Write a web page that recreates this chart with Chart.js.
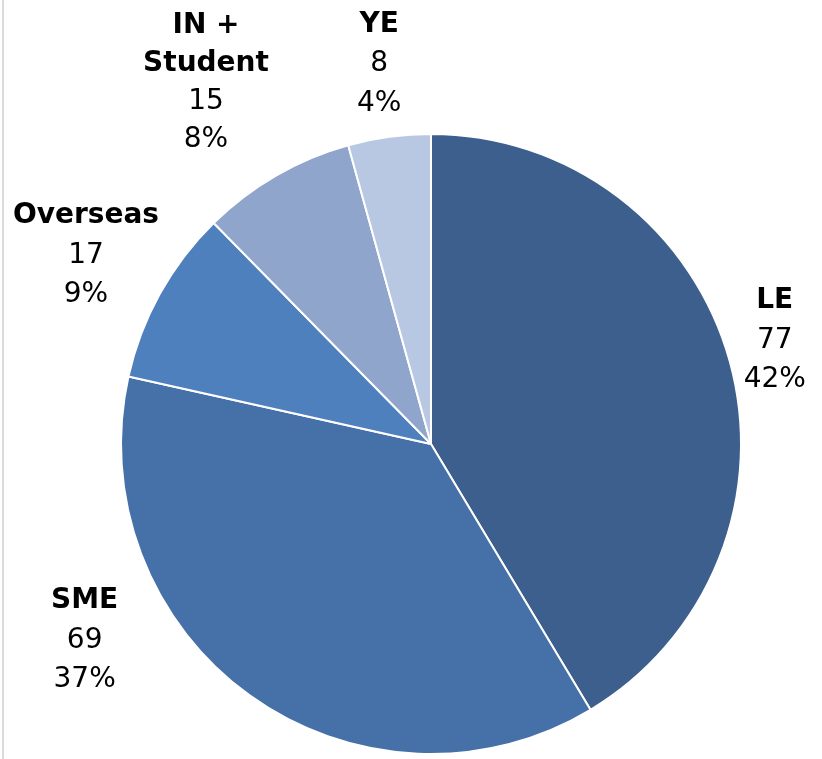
<!DOCTYPE html>
<html>
<head>
<meta charset="utf-8">
<script src="https://cdn.jsdelivr.net/npm/chart.js@4/dist/chart.umd.min.js"></script>
<style>
  html, body { margin: 0; padding: 0; background: #fff; }
  #wrap { position: relative; width: 822px; height: 759px; }
  #wrap:before { content: ''; position: absolute; left: 2px; top: 0; bottom: 0; width: 2px; background: #dadada; }
  canvas { display: block; }
</style>
</head>
<body>
<div id="wrap"><canvas id="pie" width="822" height="759"></canvas></div>
<script>
'use strict';

// data
const categories = ['LE', 'SME', 'Overseas', 'IN + Student', 'YE'];
const nameLines  = [['LE'], ['SME'], ['Overseas'], ['IN +', 'Student'], ['YE']];
const counts     = [77, 69, 17, 15, 8];
const pctLabels  = ['42%', '37%', '9%', '8%', '4%'];

const sliceColors = ['#3c5f8d', '#4571a8', '#4f80be', '#8fa5cb', '#b9c8e2'];
// label offset (px) from the midpoint of each slice's outer edge
const labelOffsets = [[45, -21], [-165, -55], [-74, -38], [-70, -93], [-10, -73]];

const FONT = '"DejaVu Sans", Verdana, sans-serif';

const pieLabels = {
  id: 'pieLabels',
  afterDatasetsDraw(chart) {
    const c = chart.ctx;
    const arcs = chart.getDatasetMeta(0).data;
    c.save();
    c.fillStyle = '#000';
    c.textAlign = 'center';
    c.textBaseline = 'middle';
    arcs.forEach((arc, i) => {
      const p = arc.getProps(['x', 'y', 'startAngle', 'endAngle', 'outerRadius'], true);
      const mid = (p.startAngle + p.endAngle) / 2;
      const cx = p.x + Math.cos(mid) * p.outerRadius + labelOffsets[i][0];
      const cy = p.y + Math.sin(mid) * p.outerRadius + labelOffsets[i][1];
      const lines = nameLines[i].map(t => ({ t, bold: true }))
        .concat([{ t: String(counts[i]), bold: false }, { t: pctLabels[i], bold: false }]);
      const lh = lines.length > 3 ? 37.8 : 39.5;
      let y = cy - (lines.length - 1) / 2 * lh;
      lines.forEach(l => {
        c.font = (l.bold ? 'bold ' : '') + '28px ' + FONT;
        c.fillText(l.t, cx, y);
        y += lh;
      });
    });
    c.restore();
  }
};

new Chart(document.getElementById('pie'), {
  type: 'pie',
  data: {
    labels: categories,
    datasets: [{
      data: counts,
      backgroundColor: sliceColors,
      borderColor: '#ffffff',
      borderWidth: 2
    }]
  },
  options: {
    responsive: false,
    animation: false,
    layout: { padding: { top: 132, bottom: 3, left: 120, right: 80 } },
    plugins: { legend: { display: false }, tooltip: { enabled: false } }
  },
  plugins: [pieLabels]
});
</script>
</body>
</html>
